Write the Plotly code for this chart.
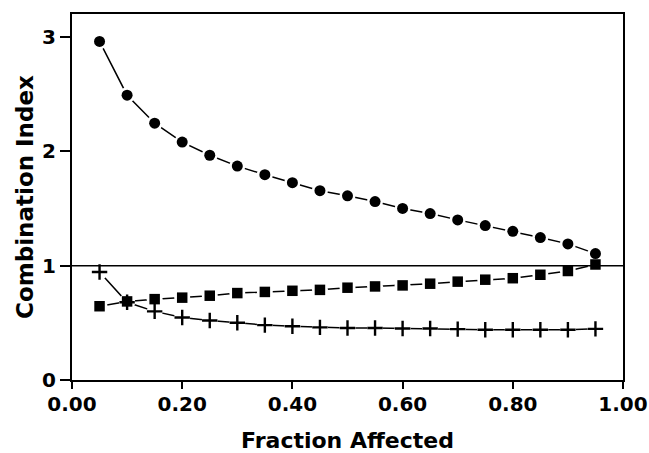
import plotly.graph_objects as go

fa = [0.05, 0.10, 0.15, 0.20, 0.25, 0.30, 0.35, 0.40, 0.45, 0.50,
      0.55, 0.60, 0.65, 0.70, 0.75, 0.80, 0.85, 0.90, 0.95]
ci_circle = [2.96, 2.49, 2.245, 2.08, 1.965, 1.87, 1.795, 1.725, 1.655, 1.61,
             1.56, 1.50, 1.455, 1.40, 1.35, 1.30, 1.245, 1.19, 1.105]
ci_square = [0.645, 0.687, 0.707, 0.72, 0.737, 0.76, 0.77, 0.78, 0.788, 0.807,
             0.818, 0.827, 0.842, 0.86, 0.877, 0.89, 0.92, 0.953, 1.01]
ci_cross = [0.944, 0.68, 0.60, 0.546, 0.52, 0.50, 0.48, 0.47, 0.46, 0.455,
            0.455, 0.45, 0.45, 0.445, 0.44, 0.44, 0.44, 0.44, 0.447]
ref_x = [0.0, 1.0]
ref_y = [1.0, 1.0]
x_ticks = [0.0, 0.2, 0.4, 0.6, 0.8, 1.0]
x_labels = ["0.00", "0.20", "0.40", "0.60", "0.80", "1.00"]
y_ticks = [0, 1, 2, 3]
y_labels = ["0", "1", "2", "3"]

series = [
    (ci_circle, "circle", 11),
    (ci_square, "square", 10.5),
    (ci_cross, "cross-thin", 11),
]

fig = go.Figure()
# connecting lines
for ys, sym, sz in series:
    fig.add_trace(go.Scatter(x=fa, y=ys, mode="lines",
                             line=dict(color="black", width=1.5),
                             showlegend=False, hoverinfo="skip"))
# white halos to create gaps between lines and markers
for ys, sym, sz in series:
    fig.add_trace(go.Scatter(x=fa, y=ys, mode="markers",
                             marker=dict(symbol="circle", size=16, color="white",
                                         line=dict(width=0)),
                             showlegend=False, hoverinfo="skip"))
# reference line at CI = 1
fig.add_trace(go.Scatter(x=ref_x, y=ref_y, mode="lines",
                         line=dict(color="black", width=1.5),
                         showlegend=False, hoverinfo="skip"))
# markers
for ys, sym, sz in series:
    if sym == "cross-thin":
        mk = dict(symbol=sym, size=sz, color="black",
                  line=dict(color="black", width=2.4))
    else:
        mk = dict(symbol=sym, size=sz, color="black", line=dict(width=0))
    fig.add_trace(go.Scatter(x=fa, y=ys, mode="markers", marker=mk,
                             showlegend=False))

font_family = "DejaVu Sans"
fig.update_layout(
    width=649, height=453,
    margin=dict(l=72, r=26, t=14, b=73),
    paper_bgcolor="white", plot_bgcolor="white",
    font=dict(family=font_family, color="black", size=20, weight="bold"),
)
fig.update_xaxes(
    range=[0, 1], tickvals=x_ticks, ticktext=x_labels,
    showgrid=False, zeroline=False, automargin=False,
    showline=True, linecolor="black", linewidth=2, mirror=True,
    ticks="outside", ticklen=7, tickwidth=1.5, tickcolor="black",
    ticklabelstandoff=-2,
    tickfont=dict(family=font_family, size=20, weight="bold"),
    title=dict(text="Fraction Affected",
               font=dict(family=font_family, size=22, weight="bold"),
               standoff=31),
)
fig.update_yaxes(
    range=[0, 3.2], tickvals=y_ticks, ticktext=y_labels,
    showgrid=False, zeroline=False, automargin=False,
    showline=True, linecolor="black", linewidth=2, mirror=True,
    ticks="outside", ticklen=10, tickwidth=1.5, tickcolor="black",
    tickfont=dict(family=font_family, size=20, weight="bold"),
    title=dict(text="Combination Index",
               font=dict(family=font_family, size=23, weight="bold"),
               standoff=2),
)

fig.write_html("out.html",
               config={"displayModeBar": False},
               post_script="document.body.style.margin='0';")
